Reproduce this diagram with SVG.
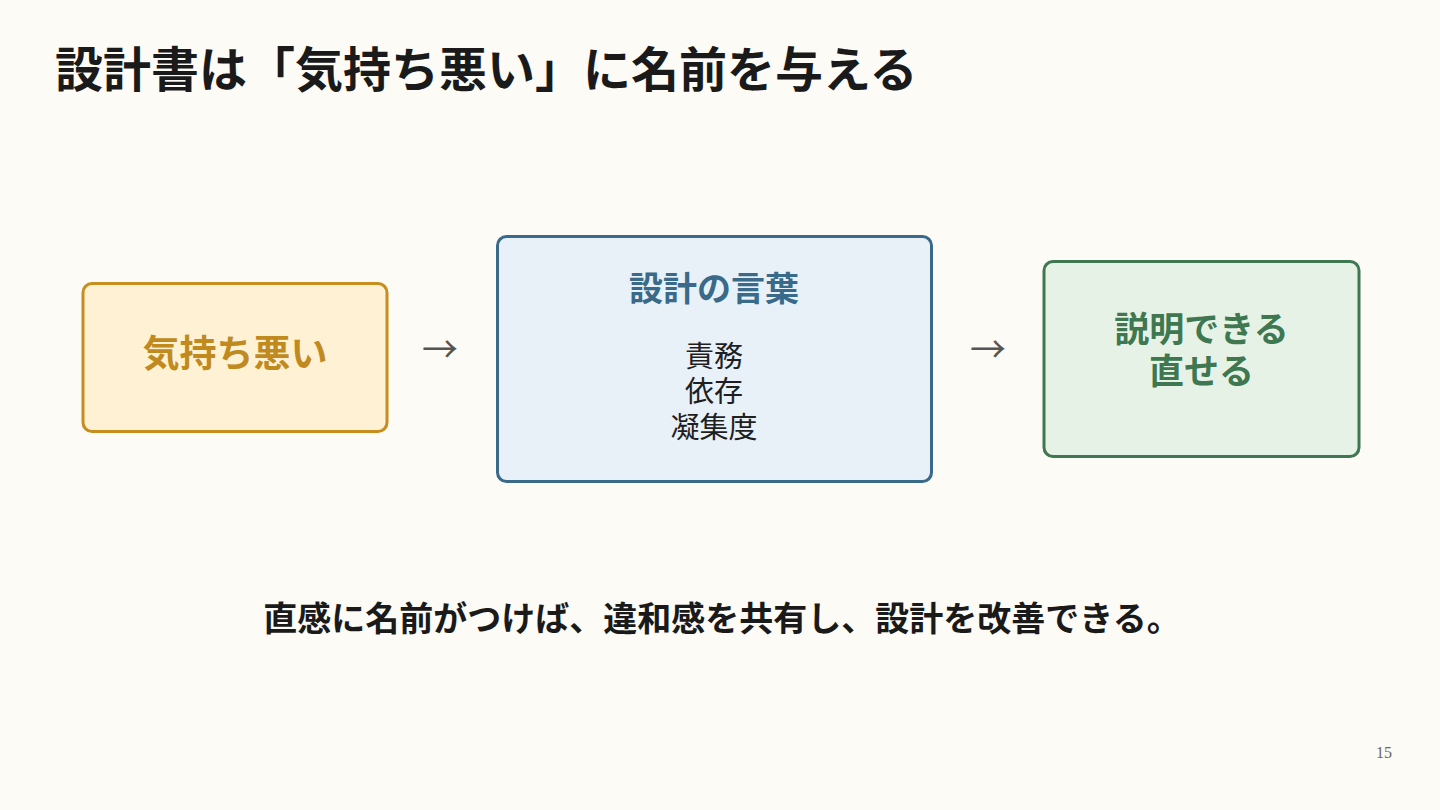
<svg xmlns="http://www.w3.org/2000/svg" width="1440" height="810" viewBox="0 0 1440 810">
<style>
text{font-family:"Noto Sans CJK JP","Noto Sans",sans-serif;dominant-baseline:central;text-anchor:middle}
.title{font-size:48px;font-weight:700;fill:#1a1a1a;text-anchor:start}
.box{stroke-width:3}
.b{font-weight:700}
.arrow{font-size:36px;fill:#555}
.item{font-size:29px;fill:#1f1f1f}
</style>
<rect width="1440" height="810" fill="#FCFBF6"/>
<text class="title" x="55" y="66">設計書は「気持ち悪い」に名前を与える</text>
<g id="node-kimochi">
<rect class="box" x="83" y="283.5" width="304" height="148" rx="9" fill="#FFF2D4" stroke="#C68D1F"/>
<text class="b" x="235" y="351" font-size="37" fill="#C08A1E">気持ち悪い</text>
</g>
<g id="node-kotoba">
<rect class="box" x="497.5" y="236.5" width="434" height="245" rx="9" fill="#E8F1F8" stroke="#396A8A"/>
<text class="b" x="714" y="286" font-size="34" fill="#3A6A8A">設計の言葉</text>
<text class="item" x="714" y="354">責務</text>
<text class="item" x="714" y="389">依存</text>
<text class="item" x="714" y="425">凝集度</text>
</g>
<g id="node-result">
<rect class="box" x="1044" y="261.5" width="315" height="195" rx="9" fill="#E6F2E6" stroke="#3E7750"/>
<text class="b" x="1201.5" y="326" font-size="35" fill="#3E7750">説明できる</text>
<text class="b" x="1201.5" y="368" font-size="35" fill="#3E7750">直せる</text>
</g>
<g id="connectors">
<text class="arrow" x="440" y="347">→</text>
<text class="arrow" x="988" y="347">→</text>
</g>
<text class="b" x="722" y="616" font-size="34" fill="#1a1a1a">直感に名前がつけば、違和感を共有し、設計を改善できる。</text>
<text x="1384" y="752" font-size="16" fill="#666" style="font-family:'Liberation Serif',serif">15</text>
</svg>
